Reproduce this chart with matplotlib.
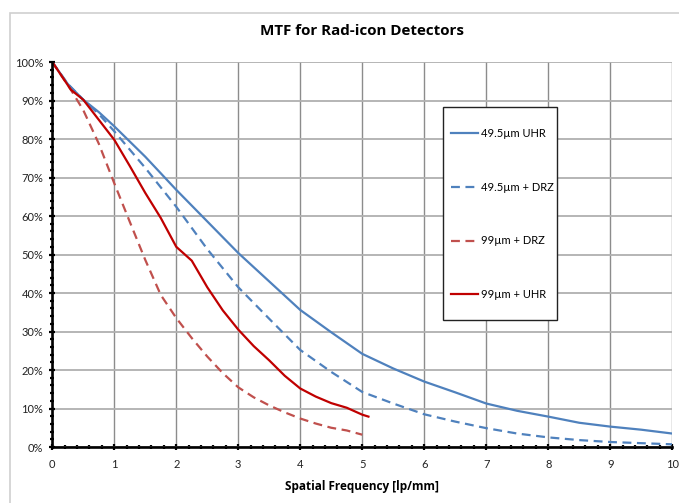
import matplotlib
matplotlib.use("Agg")
import matplotlib.pyplot as plt
from matplotlib.patches import Rectangle, Shadow
from matplotlib.ticker import MultipleLocator, FuncFormatter

plt.rcParams['font.family'] = ['Lato', 'DejaVu Sans']

# ---- data (spatial frequency in lp/mm, MTF in %) ----
x_uhr49 = [0, 0.25, 0.5, 0.75, 1, 1.5, 2, 2.5, 3, 3.5, 4, 4.5, 5, 5.5, 6,
           6.5, 7, 7.5, 8, 8.5, 9, 9.5, 10]
mtf_uhr49 = [100, 94.3, 90.2, 87, 83.3, 75.4, 66.8, 58.6, 50.4, 43, 35.6, 29.8,
             24.2, 20.4, 17, 14.2, 11.3, 9.4, 7.9, 6.3, 5.3, 4.5, 3.5]

x_drz49 = [0, 0.25, 0.5, 0.75, 1, 1.5, 2, 2.5, 3, 3.5, 4, 4.5, 5, 5.5, 6,
           6.5, 7, 7.5, 8, 8.5, 9, 9.5, 10]
mtf_drz49 = [100, 94.3, 90.2, 86.5, 82, 72.5, 62.4, 51.4, 41.5, 33.3, 25.2,
             19.5, 14.3, 11.3, 8.5, 6.6, 4.9, 3.5, 2.5, 1.8, 1.3, 1.0, 0.7]

x_drz99 = [0, 0.3, 0.5, 0.75, 1, 1.25, 1.5, 1.75, 2, 2.25, 2.5, 2.75, 3, 3.25,
           3.5, 3.75, 4, 4.25, 4.5, 4.75, 5]
mtf_drz99 = [100, 92.8, 87.5, 78.8, 68.5, 58.5, 48.6, 39.5, 33.5, 28.3, 23.5,
             19.2, 15.5, 12.9, 10.8, 9.0, 7.4, 6.1, 5.0, 4.3, 3.2]

x_uhr99 = [0, 0.3, 0.5, 0.75, 1, 1.25, 1.5, 1.75, 2, 2.25, 2.5, 2.75, 3, 3.25,
           3.5, 3.75, 4, 4.25, 4.5, 4.75, 5, 5.1]
mtf_uhr99 = [100, 92.8, 90.2, 85, 79.8, 73, 66, 59.5, 52, 48.4, 41.5, 35.5,
             30.5, 26.2, 22.5, 18.5, 15.2, 13.1, 11.4, 10.2, 8.4, 7.9]

labels = ["49.5\u00b5m UHR", "49.5\u00b5m + DRZ", "99\u00b5m + DRZ", "99\u00b5m + UHR"]
colors = ["#4F81BD", "#4F81BD", "#C0504D", "#C00000"]

fig = plt.figure(figsize=(6.79, 5.03), dpi=100)
ax = fig.add_axes([0.077, 0.1113, 0.913, 0.7654])

# chart frame (light border as in the spreadsheet export)
fig.patches.append(Rectangle((10 / 679, -0.1), 1.2, 1.1 - 13 / 503, transform=fig.transFigure,
                             facecolor='none', edgecolor='#cfcfcf', lw=1.2, zorder=0))

dash = (0, (4, 2.5))
ax.plot(x_uhr49, mtf_uhr49, color=colors[0], lw=1.6, label=labels[0], zorder=4)
ax.plot(x_drz49, mtf_drz49, color=colors[1], lw=1.6, ls=dash, label=labels[1], zorder=4)
ax.plot(x_drz99, mtf_drz99, color=colors[2], lw=1.6, ls=dash, label=labels[2], zorder=4)
ax.plot(x_uhr99, mtf_uhr99, color=colors[3], lw=1.6, label=labels[3], zorder=4)

ax.set_xlim(0, 10)
ax.set_ylim(0, 100)
ax.xaxis.set_major_locator(MultipleLocator(1))
ax.xaxis.set_minor_locator(MultipleLocator(0.2))
ax.yaxis.set_major_locator(MultipleLocator(10))
ax.yaxis.set_minor_locator(MultipleLocator(2))
ax.yaxis.set_major_formatter(FuncFormatter(lambda v, p: "{:.0f}%".format(v)))

ax.grid(True, axis='x', which='major', color='#8c8c8c', lw=1.0, zorder=1)
ax.grid(True, axis='y', which='major', color='#b0b0b0', lw=1.3, zorder=1)
ax.set_axisbelow(True)

for s in ['top', 'right']:
    ax.spines[s].set_visible(False)
for s in ['left', 'bottom']:
    ax.spines[s].set_linewidth(1.9)
    ax.spines[s].set_zorder(5)

ax.tick_params(which='major', direction='inout', length=5, width=1.6, labelsize=8,
               colors='black', labelcolor='#222222')
ax.tick_params(which='minor', direction='inout', length=3, width=1.6, colors='black')
ax.tick_params(axis='y', which='major', pad=4)
ax.tick_params(axis='x', which='major', pad=6)

ax.set_title("MTF for Rad-icon Detectors", fontsize=10.9, fontweight='bold',
             family=['Open Sans', 'DejaVu Sans'], pad=19.5)
ax.set_xlabel("Spatial Frequency [lp/mm]", fontsize=8.5, fontweight='bold',
              family=['Open Sans', 'DejaVu Sans'], labelpad=7.5)

# legend box drawn by hand so the generous padding matches
box = Rectangle((0.630, 0.330), 0.184, 0.553, transform=ax.transAxes,
                facecolor='white', edgecolor='#222222', lw=1.0, zorder=6)
shadow = Shadow(box, 2.5, -2.5, facecolor='#9a9a9a', alpha=0.5, zorder=5.5)
ax.add_patch(shadow)
ax.add_patch(box)

leg = ax.legend(loc='center left', bbox_to_anchor=(0.643, 0.605), frameon=False,
                fontsize=8, labelspacing=3.85, handlelength=2.45, handletextpad=0.25,
                borderpad=0, borderaxespad=0)
leg.set_zorder(7)

fig.savefig("out.png", dpi=100)
